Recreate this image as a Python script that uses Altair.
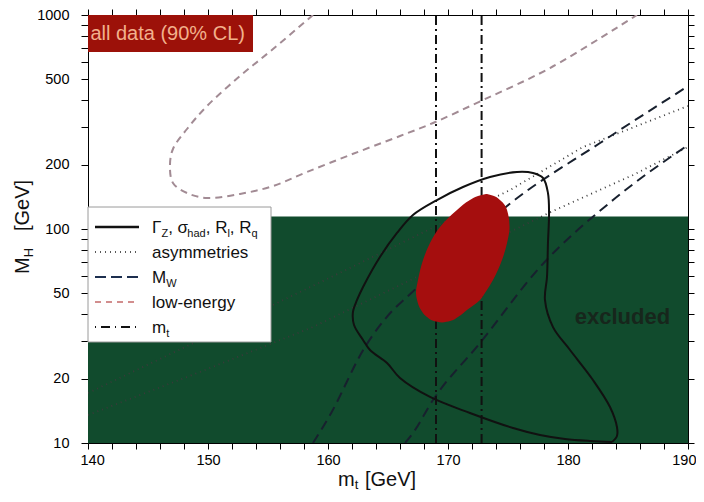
import altair as alt
import pandas as pd

FONT = "Liberation Sans"

# ---------------- data ----------------
MT_DOMAIN = [140, 190]
MH_DOMAIN = [10, 1000]
excluded_limit = 114.4          # GeV, LEP direct search limit
mt_band = [169.0, 172.8]        # direct m_t measurement (dash-dot lines)

# all data 90% CL region (filled): for each M_H, left/right m_t edge
ell_mh = [36.6, 37.2, 38.8, 41.8, 46.6, 50.2, 57.8, 71.6, 86.0, 102.2, 122.7, 136.6, 142.6, 145.8]
ell_lo = [169.5, 168.83, 168.25, 167.75, 167.42, 167.33, 167.5, 167.92, 168.5, 169.33, 170.75, 171.83, 172.5, 173.17]
ell_hi = [169.5, 170.17, 170.83, 171.58, 172.67, 173.08, 173.75, 174.5, 174.92, 175.13, 174.92, 174.33, 173.83, 173.25]

# Gamma_Z, sigma_had, R_l, R_q contour (closed)
z_mt = [183.67, 181.83, 179.75, 177.67, 175.42, 171.83, 168.5, 166.0, 164.92, 163.5, 162.92, 162.17,
        162.08, 162.42, 162.92, 164.33, 165.75, 167.08, 169.08, 171.25, 173.5, 175.75, 177.08, 177.92,
        178.33, 178.42, 178.33, 178.25, 178.08, 178.75, 180.17, 182.08, 183.5, 184.08, 184.08, 183.67]
z_mh = [10.11, 10.22, 10.44, 10.90, 11.75, 13.81, 16.41, 20.12, 23.65, 27.2, 30.29, 35.6,
        40.95, 46.6, 53.6, 74.0, 95.8, 116.3, 136.6, 157.1, 175.0, 184.7, 182.7, 173.1,
        147.3, 118.8, 86.0, 59.7, 46.6, 34.8, 27.2, 19.7, 14.73, 11.88, 10.78, 10.11]

# M_W band edges
mw1_mt = [158.75, 160.17, 163.08, 165.42, 166.58, 169.33, 174.92, 182.67, 190.0]
mw1_mh = [10.0, 13.51, 28.09, 41.83, 48.12, 66.44, 128.1, 252.3, 465.0]
mw2_mt = [166.42, 167.08, 168.75, 172.67, 177.67, 183.75, 190.0]
mw2_mh = [10.0, 11.14, 15.88, 29.33, 66.44, 136.6, 246.9]

# asymmetries band edges
as1_mt = [140.0, 149.33, 161.83, 175.17, 181.25, 190.0]
as1_mh = [17.13, 30.29, 65.74, 152.1, 241.6, 375.7]
as2_mt = [140.0, 149.33, 158.75, 170.17, 178.75, 185.42, 190.0]
as2_mh = [13.51, 21.47, 34.84, 70.87, 121.4, 178.8, 241.6]

# low-energy contour
low_mt = [158.75, 155.42, 152.67, 149.92, 148.25, 147.08, 146.83, 147.08, 148.25, 149.92, 152.67,
          155.42, 158.25, 161.83, 166.0, 168.75, 172.92, 178.5, 185.75]
low_mh = [1000, 693.6, 518.8, 375.7, 293.3, 236.5, 197.0, 164.1, 147.3, 139.6, 145.8,
          158.8, 184.7, 221.7, 272.0, 312.8, 400.6, 565.3, 1000]

x_ticks = list(range(140, 191, 2))
x_labels = [140, 150, 160, 170, 180, 190]
y_ticks = [10, 20, 30, 40, 50, 60, 70, 80, 90, 100, 200, 300, 400, 500, 600, 700, 800, 900, 1000]
y_labels = [10, 20, 50, 100, 200, 500, 1000]

# ---------------- styling ----------------
GREEN = "#114b2d"
RED = "#a50e0e"
BOXRED = "#9c1109"
LOWC = "#a28b94"
MWC = "#18202e"
DOTC = "#3a3a3a"

W, H = 600, 428
OX, OY = 88, 15   # page position of plot origin

xs = alt.Scale(domain=MT_DOMAIN, nice=False, zero=False)
ys = alt.Scale(type="log", domain=MH_DOMAIN, nice=False)

dummy = pd.DataFrame({"d": [0]})


def curve(mts, mhs, color, width, dash=None, interp="linear"):
    df = pd.DataFrame({"mt": mts, "mh": mhs, "i": list(range(len(mts)))})
    props = dict(color=color, strokeWidth=width, interpolate=interp, clip=True)
    if dash:
        props["strokeDash"] = dash
    return alt.Chart(df).mark_line(**props).encode(
        x=alt.X("mt:Q", scale=xs, axis=None),
        y=alt.Y("mh:Q", scale=ys, axis=None),
        order="i:Q",
    )


def txt(px, py, s, size, angle=0, color="#111111", weight="normal", align="left", baseline="alphabetic"):
    props = dict(text=s, fontSize=size, color=color, align=align, baseline=baseline,
                 font=FONT, fontWeight=weight)
    if angle:
        props["angle"] = angle
    return alt.Chart(dummy).mark_text(**props).encode(
        x=alt.value(px - OX), y=alt.value(py - OY))


EM = {"Γ": .556, "Z": .611, ",": .278, " ": .278, "σ": .571, "h": .556, "a": .556, "d": .556,
      "R": .722, "l": .222, "q": .556, "W": .944, "t": .278, "m": .833, "M": .833, "H": .722,
      "[": .278, "G": .778, "e": .556, "V": .667, "]": .278, "-": .333, "w": .722, "r": .333,
      "i": .222, "y": .5, "s": .5, "o": .556, "n": .556, "g": .556}


def run(x, y, parts, vertical=False, shift=4):
    out = []
    for s, size, sub in parts:
        if vertical:
            out.append(txt(x + (shift if sub else 0), y, s, size, angle=270))
            y -= sum(EM.get(c, .556) for c in s) * size
        else:
            out.append(txt(x, y + (shift if sub else 0), s, size))
            x += sum(EM.get(c, .556) for c in s) * size
    return out


layers = []

# excluded region (carries bottom / left axes)
lab_expr = "indexof(%s, datum.value) >= 0 ? format(datum.value, 'd') : ''"
excl = pd.DataFrame({"x1": [MT_DOMAIN[0]], "x2": [MT_DOMAIN[1]], "y1": [MH_DOMAIN[0]], "y2": [excluded_limit]})
layers.append(alt.Chart(excl).mark_rect(color=GREEN).encode(
    x=alt.X("x1:Q", scale=xs, axis=alt.Axis(orient="bottom", values=x_ticks, title=None,
            labelExpr=lab_expr % str(x_labels), tickSize=6, labelPadding=4, labelFontSize=14.5,
            labelFont=FONT, labelColor="black", tickColor="black", domainColor="black",
            labelFlush=True, labelFlushOffset=8, labelOverlap=False, grid=False)),
    x2="x2:Q",
    y=alt.Y("y1:Q", scale=ys, axis=alt.Axis(orient="left", values=y_ticks, title=None,
            labelExpr=lab_expr % str(y_labels), tickSize=7, labelPadding=12, labelFontSize=14.5,
            labelFont=FONT, labelColor="black", tickColor="black", domainColor="black",
            labelFlush=False, labelOverlap=False, grid=False)),
    y2="y2:Q",
))

# constraint curves
layers.append(curve(as1_mt, as1_mh, DOTC, 1.8, [1, 4]))
layers.append(curve(as2_mt, as2_mh, DOTC, 1.8, [1, 4]))
layers.append(curve(mw1_mt, mw1_mh, MWC, 2, [10, 6], "monotone"))
layers.append(curve(mw2_mt, mw2_mh, MWC, 2, [10, 6], "monotone"))
layers.append(curve(low_mt, low_mh, LOWC, 2, [7, 5], "catmull-rom"))

# m_t lines (carry top / right axes)
mtdf = pd.DataFrame({"mt": mt_band, "lo": [MH_DOMAIN[0]] * 2, "hi": [MH_DOMAIN[1]] * 2})
layers.append(alt.Chart(mtdf).mark_rule(color="#111111", strokeWidth=2, strokeDash=[9, 4, 2, 4]).encode(
    x=alt.X("mt:Q", scale=xs, axis=alt.Axis(orient="top", values=x_ticks, labels=False, title=None,
            tickSize=6, tickColor="black", domainColor="black", grid=False)),
    y=alt.Y("lo:Q", scale=ys, axis=alt.Axis(orient="right", values=y_ticks, labels=False, title=None,
            tickSize=6, tickColor="black", domainColor="black", grid=False)),
    y2="hi:Q",
))

layers.append(curve(z_mt, z_mh, "#111111", 2, None, "catmull-rom"))

# all data 90% CL ellipse
ell = pd.DataFrame({"mh": ell_mh, "lo": ell_lo, "hi": ell_hi})
layers.append(alt.Chart(ell).mark_area(orient="horizontal", color=RED, interpolate="monotone").encode(
    y=alt.Y("mh:Q", scale=ys, axis=None),
    x=alt.X("lo:Q", scale=xs, axis=None),
    x2="hi:Q",
))

# "all data (90% CL)" label box
box = pd.DataFrame({"x1": [140.0], "x2": [153.75], "y1": [671.6], "y2": [1000.0]})
layers.append(alt.Chart(box).mark_rect(color=BOXRED).encode(
    x=alt.X("x1:Q", scale=xs, axis=None), x2="x2:Q",
    y=alt.Y("y1:Q", scale=ys, axis=None), y2="y2:Q"))
ann = pd.DataFrame({"mt": [140.2], "mh": [815.0], "t": ["all data (90% CL)"]})
layers.append(alt.Chart(ann).mark_text(align="left", baseline="middle", fontSize=20, font=FONT,
                                       color="#f2b08c").encode(
    x=alt.X("mt:Q", scale=xs, axis=None), y=alt.Y("mh:Q", scale=ys, axis=None), text="t:N"))

# "excluded"
exc = pd.DataFrame({"mt": [184.54], "mh": [38.8], "t": ["excluded"]})
layers.append(alt.Chart(exc).mark_text(align="center", baseline="middle", fontSize=22, font=FONT,
                                       fontWeight="bold", color="#17261c").encode(
    x=alt.X("mt:Q", scale=xs, axis=None), y=alt.Y("mh:Q", scale=ys, axis=None), text="t:N"))

# legend box
layers.append(alt.Chart(dummy).mark_rect(fill="white", stroke="#9a9a9a", strokeWidth=1).encode(
    x=alt.value(88 - OX), x2=alt.value(271 - OX), y=alt.value(207 - OY), y2=alt.value(342 - OY)))

leg_rows = [227, 252, 277, 302, 327]
leg_styles = [
    dict(color="#111111", strokeWidth=2.5),
    dict(color="#222222", strokeWidth=1.6, strokeDash=[1, 4]),
    dict(color="#1d2f4f", strokeWidth=2.2, strokeDash=[11, 5]),
    dict(color="#c46a6a", strokeWidth=1.6, strokeDash=[6, 5]),
    dict(color="#111111", strokeWidth=2, strokeDash=[1, 5, 9, 5]),
]
for ry, st in zip(leg_rows, leg_styles):
    layers.append(alt.Chart(dummy).mark_rule(**st).encode(
        x=alt.value(95 - OX), x2=alt.value(139 - OX), y=alt.value(ry - OY)))

leg_text = [
    [("Γ", 17, False), ("Z", 11, True), (", σ", 17, False), ("had", 11, True), (", R", 17, False),
     ("l", 11, True), (", R", 17, False), ("q", 11, True)],
    [("asymmetries", 17, False)],
    [("M", 17, False), ("W", 11, True)],
    [("low-energy", 17, False)],
    [("m", 17, False), ("t", 11, True)],
]
for ry, parts in zip(leg_rows, leg_text):
    layers += run(152, ry + 6, parts)

# axis titles with subscripts
layers += run(338, 486, [("m", 20, False), ("t", 13, True)], shift=3)
layers.append(txt(365, 486, "[GeV]", 20))
layers += run(29, 274, [("M", 20, False), ("H", 13, True)], vertical=True)
layers.append(txt(29, 231, "[GeV]", 20, angle=270))

chart = alt.layer(*layers).resolve_axis(x="independent", y="independent").properties(
    width=W, height=H,
    autosize=alt.AutoSizeParams(type="none"),
    padding={"left": 80, "top": 7, "right": 8, "bottom": 51},
).configure_view(stroke="black", strokeWidth=1.3).configure(font=FONT)

chart.save("out.html", embed_options={"renderer": "svg", "actions": False})
